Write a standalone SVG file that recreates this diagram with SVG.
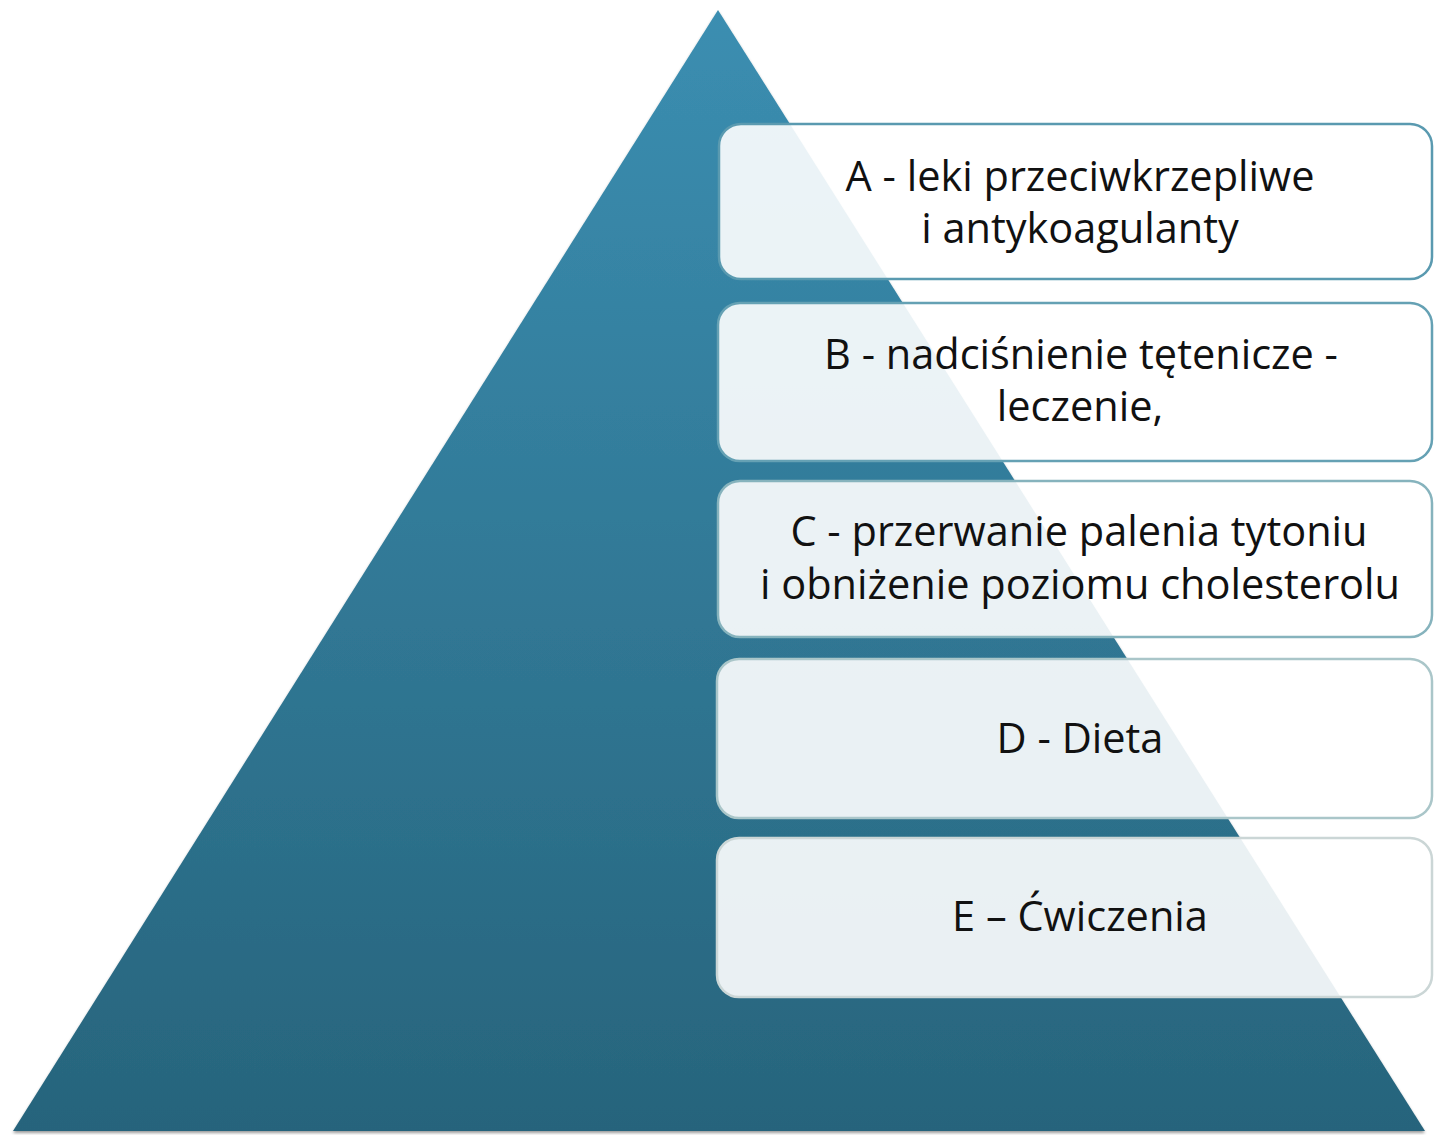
<svg xmlns="http://www.w3.org/2000/svg" width="1434" height="1135" viewBox="0 0 1434 1135">
<defs>
<linearGradient id="pg" x1="0" y1="0" x2="0" y2="1">
<stop offset="0" stop-color="#3b8eb1"/>
<stop offset="1" stop-color="#27647c"/>
</linearGradient>
<filter id="sh" x="-5%" y="-5%" width="110%" height="110%">
<feGaussianBlur in="SourceAlpha" stdDeviation="1.5"/>
<feOffset dx="0" dy="2"/>
<feComponentTransfer><feFuncA type="linear" slope="0.4"/></feComponentTransfer>
<feMerge><feMergeNode/><feMergeNode in="SourceGraphic"/></feMerge>
</filter>
</defs>
<style>
.box{fill:#ffffff;fill-opacity:0.9;stroke-width:2.5}
.t{font-family:"Open Sans","Liberation Sans",sans-serif;font-size:41.5px;fill:#111111;text-anchor:middle}
</style>
<rect width="1434" height="1135" fill="#ffffff"/>
<g id="pyramid">
<polygon points="718,10 1425,1131 13,1131" fill="url(#pg)" filter="url(#sh)"/>
</g>
<g id="connectors"></g>
<g id="boxA">
<rect class="box" x="719" y="124" width="713" height="155" rx="22" stroke="#5a9ab0"/>
<text class="t" x="1080" y="191">A - leki przeciwkrzepliwe</text>
<text class="t" x="1080" y="243">i antykoagulanty</text>
</g>
<g id="boxB">
<rect class="box" x="718" y="303" width="714" height="158" rx="22" stroke="#65a1b4"/>
<text class="t" x="1081" y="369">B - nadciśnienie tętenicze -</text>
<text class="t" x="1080" y="421">leczenie,</text>
</g>
<g id="boxC">
<rect class="box" x="718" y="481" width="714" height="156" rx="22" stroke="#86b3bd"/>
<text class="t" x="1079" y="546">C - przerwanie palenia tytoniu</text>
<text class="t" x="1080" y="599">i obniżenie poziomu cholesterolu</text>
</g>
<g id="boxD">
<rect class="box" x="717" y="659" width="715" height="159" rx="22" stroke="#aac6c9"/>
<text class="t" x="1080" y="753">D - Dieta</text>
</g>
<g id="boxE">
<rect class="box" x="717" y="838" width="715" height="159" rx="22" stroke="#cbd6d6"/>
<text class="t" x="1080" y="931">E – Ćwiczenia</text>
</g>
</svg>
